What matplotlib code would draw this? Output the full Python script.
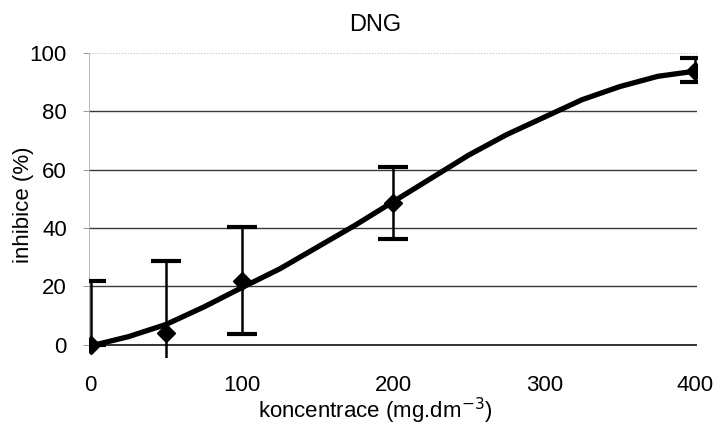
import numpy as np
import matplotlib.pyplot as plt

plt.rcParams['font.family'] = ['Liberation Sans', 'DejaVu Sans']

# measured points
conc = [0, 50, 100, 200, 400]
inhib = [0, 4.2, 21.8, 48.6, 94]
err_low = [0, 24.7, 18.2, 12.3, 4]
err_up = [21.9, 24.7, 18.5, 12.3, 4.2]

# fitted curve
fit_x = [3, 25, 50, 75, 100, 125, 150, 175, 200, 225, 250, 275, 300, 325, 350, 375, 400]
fit_y = [0, 2.8, 7, 13, 19.6, 26, 33.5, 41, 49, 57, 65, 72, 78, 84, 88.5, 92, 93.8]

fig = plt.figure(figsize=(7.2, 4.25), dpi=100)
ax = fig.add_axes([89/720, (425-358)/425, (697-89)/720, (358-53)/425])

for g in [20, 40, 60, 80]:
    ax.axhline(g, color='#3a3a3a', lw=1.0, zorder=1)
ax.axhline(100, color='#bbbbbb', lw=0.8, ls=':', zorder=1)
ax.axhline(0, color='#222222', lw=1.3, zorder=1)

ax.plot(fit_x, fit_y, color='black', lw=3.8, solid_capstyle='round', zorder=3)
ax.errorbar(conc, inhib, yerr=[err_low, err_up], fmt='D', color='black',
            ms=9, elinewidth=1.8, capsize=11, capthick=3, zorder=4)

ax.set_xlim(-1, 401)
ax.set_ylim(-4.5, 100)
ax.set_xticks([0, 100, 200, 300, 400])
ax.set_yticks([0, 20, 40, 60, 80, 100])
ax.tick_params(axis='x', length=0, labelsize=16, pad=12)
ax.tick_params(axis='y', length=4, width=0.6, color='#888888', labelsize=16, pad=12)
for s in ['top', 'right', 'bottom']:
    ax.spines[s].set_visible(False)
ax.spines['left'].set_color('#aaaaaa')
ax.spines['left'].set_linewidth(0.6)
ax.spines['left'].set_bounds(0, 100)

fig.text(375/720, 1 - 25/425, 'DNG', ha='center', va='center', fontsize=17)
ax.set_xlabel('koncentrace (mg.dm$^{-3}$)', fontsize=16, labelpad=0)
ax.xaxis.label.set_x((375 - 89) / 608)
ax.set_ylabel('inhibice (%)', fontsize=16, labelpad=-3)
ax.yaxis.label.set_y((358 - 205) / 305)

fig.savefig('out.png', dpi=100)
